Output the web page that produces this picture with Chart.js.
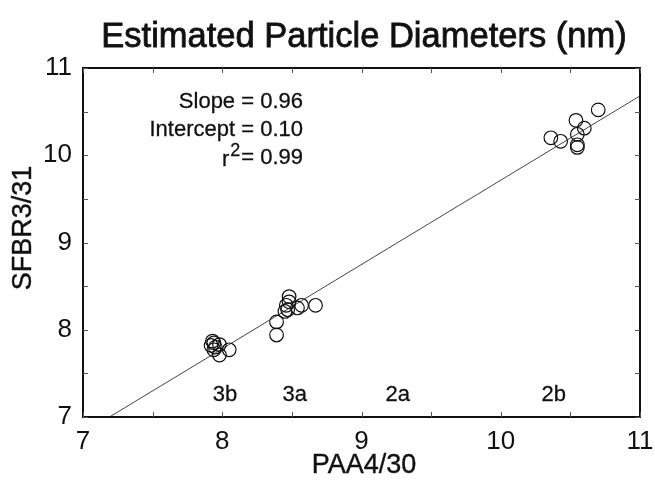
<!DOCTYPE html>
<html><head><meta charset="utf-8">
<script src="https://cdn.jsdelivr.net/npm/chart.js@4.4.0/dist/chart.umd.min.js"></script>
<style>html,body{margin:0;padding:0;background:#fff}</style>
</head><body>
<canvas id="c" width="655" height="486" style="width:655px;height:486px;display:block"></canvas>
<script>
// ---- data ----
const paaX  = [7.93, 7.94, 7.98, 7.92, 7.95, 7.94, 7.98, 8.05,
               8.48, 8.46, 8.47, 8.48, 8.54, 8.57, 8.67, 8.39, 8.39, 8.45,
               10.36, 10.43, 10.54, 10.60, 10.55, 10.55, 10.55, 10.70];
const sfbrY = [7.87, 7.85, 7.83, 7.82, 7.80, 7.77, 7.71, 7.77,
               8.38, 8.28, 8.23, 8.32, 8.25, 8.28, 8.28, 8.09, 7.94, 8.21,
               10.20, 10.16, 10.40, 10.31, 10.24, 10.12, 10.09, 10.52];
const fitX = [7.19, 11.0];
const fitY = [7.0, 10.68];
const groupLabels = ['3b', '3a', '2a', '2b'];
const groupLabelX = [8.02, 8.52, 9.26, 10.38];
const groupLabelY = 7.25;
const xTickValues = [7, 8, 9, 10, 11];
const yTickValues = [7, 8, 9, 10, 11];
const statText = ['Slope = 0.96', 'Intercept = 0.10', '= 0.99'];
const titleText = 'Estimated Particle Diameters (nm)';
const xTitle = 'PAA4/30';
const yTitle = 'SFBR3/31';

const FONT = '"Liberation Sans", Arial, Helvetica, sans-serif';

const points = paaX.map((x, i) => ({x: x, y: sfbrY[i]}));
const fit = fitX.map((x, i) => ({x: x, y: fitY[i]}));

function heavyText(ctx, t, x, y, w) {
  ctx.fillText(t, x, y);
  ctx.lineWidth = w;
  ctx.strokeText(t, x, y);
}

const decor = {
  id: 'decor',
  afterDraw(chart) {
    const ctx = chart.ctx, a = chart.chartArea;
    const xs = chart.scales.x, ys = chart.scales.y;
    ctx.save();
    // frame
    ctx.strokeStyle = '#111';
    ctx.lineWidth = 2;
    ctx.strokeRect(a.left, a.top, a.right - a.left, a.bottom - a.top);
    // inward ticks every 0.5
    ctx.lineWidth = 1;
    ctx.strokeStyle = '#555';
    for (let v = 7; v <= 11.001; v += 0.5) {
      const px = Math.round(xs.getPixelForValue(v)) + 0.5;
      ctx.beginPath(); ctx.moveTo(px, a.bottom); ctx.lineTo(px, a.bottom - 5);
      ctx.moveTo(px, a.top); ctx.lineTo(px, a.top + 5); ctx.stroke();
      const py = Math.round(ys.getPixelForValue(v)) + 0.5;
      ctx.beginPath(); ctx.moveTo(a.left, py); ctx.lineTo(a.left + 5, py);
      ctx.moveTo(a.right, py); ctx.lineTo(a.right - 5, py); ctx.stroke();
    }
    ctx.fillStyle = '#111';
    ctx.strokeStyle = '#111';
    // title
    ctx.font = '34.5px ' + FONT;
    ctx.textAlign = 'center'; ctx.textBaseline = 'middle';
    heavyText(ctx, titleText, 364, 37, 0.8);
    // axis titles
    ctx.font = '27px ' + FONT;
    heavyText(ctx, xTitle, 364, 466, 0.4);
    ctx.save();
    ctx.translate(24, 228);
    ctx.rotate(-Math.PI / 2);
    heavyText(ctx, yTitle, 0, 0, 0.4);
    ctx.restore();
    // group labels
    ctx.font = '22px ' + FONT;
    groupLabels.forEach((t, i) => {
      heavyText(ctx, t, xs.getPixelForValue(groupLabelX[i]), ys.getPixelForValue(groupLabelY), 0.3);
    });
    // stats
    ctx.textAlign = 'right';
    const rx = 303;
    heavyText(ctx, statText[0], rx, 102, 0.3);
    heavyText(ctx, statText[1], rx, 130, 0.3);
    const w = ctx.measureText(statText[2]).width;
    heavyText(ctx, statText[2], rx, 158, 0.3);
    ctx.font = '18px ' + FONT;
    const w2 = ctx.measureText('2').width;
    heavyText(ctx, '2', rx - w - 1, 151, 0.3);
    ctx.font = '22px ' + FONT;
    heavyText(ctx, 'r', rx - w - w2 - 2, 160, 0.3);
    ctx.restore();
  }
};

new Chart(document.getElementById('c'), {
  type: 'scatter',
  data: {
    datasets: [
      {
        type: 'line', data: fit, borderColor: '#444', borderWidth: 1,
        pointRadius: 0, fill: false, order: 2
      },
      {
        data: points, pointStyle: 'circle', pointRadius: 6.8,
        backgroundColor: 'rgba(0,0,0,0)', borderColor: '#111',
        pointBorderWidth: 1.2, order: 1
      }
    ]
  },
  options: {
    responsive: false, animation: false,
    layout: {padding: {left: 0, right: 0, top: 68, bottom: 0}},
    plugins: {legend: {display: false}, tooltip: {enabled: false}, title: {display: false}},
    scales: {
      x: {
        type: 'linear', min: 7, max: 11,
        afterBuildTicks: s => { s.ticks = xTickValues.map(v => ({value: v})); },
        afterFit: s => { s.height = 69; s.paddingRight = 15; s.paddingLeft = 0; },
        grid: {display: false, drawTicks: false},
        border: {display: false},
        ticks: {color: '#111', font: {family: FONT, size: 26}, padding: 9, maxRotation: 0}
      },
      y: {
        type: 'linear', min: 7, max: 11,
        afterBuildTicks: s => { s.ticks = yTickValues.map(v => ({value: v})); },
        afterFit: s => { s.width = 83; s.paddingTop = 0; s.paddingBottom = 0; },
        grid: {display: false, drawTicks: false},
        border: {display: false},
        ticks: {color: '#111', font: {family: FONT, size: 26}, padding: 11}
      }
    }
  },
  plugins: [decor]
});
</script>
</body></html>
